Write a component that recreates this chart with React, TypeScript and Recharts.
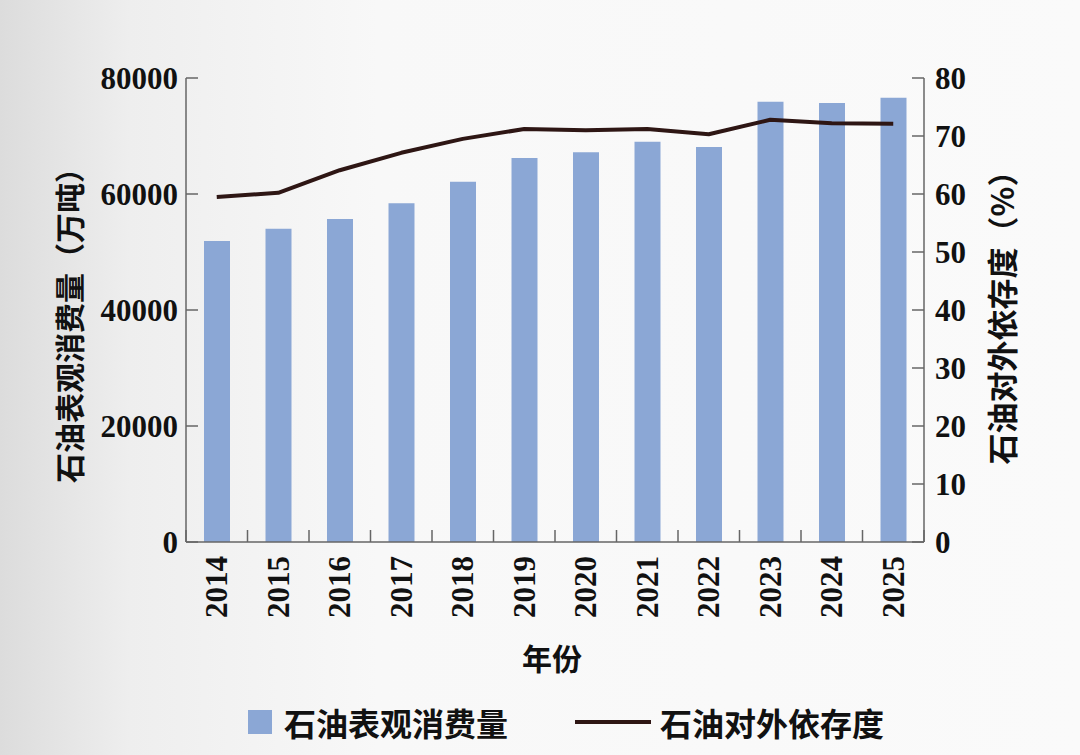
import { ComposedChart, Bar, Line, XAxis, YAxis } from 'recharts';

const years = ['2014', '2015', '2016', '2017', '2018', '2019', '2020', '2021', '2022', '2023', '2024', '2025'];
// 石油表观消费量（万吨）
const consumption = [51900, 54000, 55700, 58400, 62100, 66200, 67200, 69000, 68100, 75900, 75700, 76600];
// 石油对外依存度（%）
const dependence = [59.5, 60.2, 64.1, 67.1, 69.5, 71.2, 71.0, 71.2, 70.3, 72.8, 72.2, 72.1];
const leftTicks = [0, 20000, 40000, 60000, 80000];
const rightTicks = [0, 10, 20, 30, 40, 50, 60, 70, 80];

const data = years.map((year, i) => ({ year, consumption: consumption[i], dependence: dependence[i] }));

const BAR_COLOR = '#8ba7d5';
const LINE_COLOR = '#2e1614';
const AXIS_COLOR = '#666';
const NUM_FONT = '"Liberation Serif", "Times New Roman", serif';
const CJK_FONT = '"Noto Sans CJK SC", "Noto Sans", sans-serif';

const LeftTick = ({ x, y, payload }: any) => (
  <g>
    <line x1={x} y1={y} x2={x + 12} y2={y} stroke={AXIS_COLOR} strokeWidth={1.5} />
    <text x={x - 8} y={y} textAnchor="end" dominantBaseline="central" fontFamily={NUM_FONT} fontWeight="bold" fontSize={31} fill="#111">
      {payload.value}
    </text>
  </g>
);

const RightTick = ({ x, y, payload }: any) => (
  <g>
    <line x1={x} y1={y} x2={x - 12} y2={y} stroke={AXIS_COLOR} strokeWidth={1.5} />
    <text x={x + 11} y={y} textAnchor="start" dominantBaseline="central" fontFamily={NUM_FONT} fontWeight="bold" fontSize={31} fill="#111">
      {payload.value}
    </text>
  </g>
);

const BottomTick = ({ x, y, payload, index }: any) => {
  const half = payload.offset || 30.75;
  return (
    <g>
      <line x1={x - half} y1={y} x2={x - half} y2={y - 12} stroke={AXIS_COLOR} strokeWidth={1.5} />
      {index === years.length - 1 && (
        <line x1={x + half} y1={y} x2={x + half} y2={y - 12} stroke={AXIS_COLOR} strokeWidth={1.5} />
      )}
      <text
        transform={`translate(${x},${y + 14}) rotate(-90)`}
        textAnchor="end"
        dominantBaseline="central"
        fontFamily={NUM_FONT}
        fontWeight="bold"
        fontSize={31}
        fill="#111"
      >
        {payload.value}
      </text>
    </g>
  );
};

const leftLabel = ({ viewBox }: any) => {
  const cx = viewBox.x + 68;
  const cy = viewBox.y + viewBox.height / 2 + 8;
  return (
    <text transform={`translate(${cx},${cy}) rotate(-90)`} textAnchor="middle" dominantBaseline="central" fontFamily={CJK_FONT} fontWeight="bold" fontSize={30} fill="#111">
      石油表观消费量（万吨）
    </text>
  );
};

const rightLabel = ({ viewBox }: any) => {
  const cx = viewBox.x + 76;
  const cy = viewBox.y + viewBox.height / 2;
  return (
    <text transform={`translate(${cx},${cy}) rotate(-90)`} textAnchor="middle" dominantBaseline="central" fontFamily={CJK_FONT} fontWeight="bold" fontSize={31} fill="#111">
      石油对外依存度（%）
    </text>
  );
};

const bottomLabel = ({ viewBox }: any) => (
  <text x={viewBox.x + viewBox.width / 2 - 3} y={viewBox.y + 115} textAnchor="middle" dominantBaseline="central" fontFamily={CJK_FONT} fontWeight="bold" fontSize={30} fill="#111">
    年份
  </text>
);

export default function App() {
  return (
    <div
      style={{
        position: 'absolute',
        left: 0,
        top: 0,
        width: 1080,
        height: 755,
        background: 'linear-gradient(90deg, #dcdcdc 0%, #eeeeee 12%, #f8f8f8 35%, #fafafa 100%)',
      }}
    >
      <ComposedChart width={1080} height={755} data={data} margin={{ top: 78, right: 0, bottom: 0, left: 0 }}>
        <XAxis
          dataKey="year"
          height={213}
          tickSize={0}
          tickMargin={0}
          tickLine={false}
          interval={0}
          axisLine={{ stroke: AXIS_COLOR, strokeWidth: 1.5 }}
          tick={<BottomTick />}
          label={bottomLabel}
        />
        <YAxis
          yAxisId="left"
          width={186}
          domain={[0, 80000]}
          ticks={leftTicks}
          tickSize={0}
          tickMargin={0}
          tickLine={false}
          axisLine={{ stroke: AXIS_COLOR, strokeWidth: 1.5 }}
          tick={<LeftTick />}
          label={leftLabel}
        />
        <YAxis
          yAxisId="right"
          orientation="right"
          width={156}
          domain={[0, 80]}
          ticks={rightTicks}
          tickSize={0}
          tickMargin={0}
          tickLine={false}
          axisLine={{ stroke: AXIS_COLOR, strokeWidth: 1.5 }}
          tick={<RightTick />}
          label={rightLabel}
        />
        <Bar yAxisId="left" dataKey="consumption" fill={BAR_COLOR} barSize={26} isAnimationActive={false} />
        <Line
          yAxisId="right"
          type="linear"
          dataKey="dependence"
          stroke={LINE_COLOR}
          strokeWidth={4}
          strokeLinejoin="round"
          dot={false}
          activeDot={false}
          isAnimationActive={false}
        />
      </ComposedChart>
      <div
        style={{
          position: 'absolute',
          top: 699,
          left: 248,
          display: 'flex',
          alignItems: 'center',
          fontFamily: CJK_FONT,
          fontWeight: 'bold',
          fontSize: 32,
          color: '#111',
          whiteSpace: 'nowrap',
        }}
      >
        <span style={{ display: 'inline-block', width: 24, height: 24, background: BAR_COLOR, marginRight: 12 }} />
        <span>石油表观消费量</span>
        <span style={{ display: 'inline-block', width: 76, height: 4, background: LINE_COLOR, marginLeft: 67, marginRight: 9 }} />
        <span>石油对外依存度</span>
      </div>
    </div>
  );
}
